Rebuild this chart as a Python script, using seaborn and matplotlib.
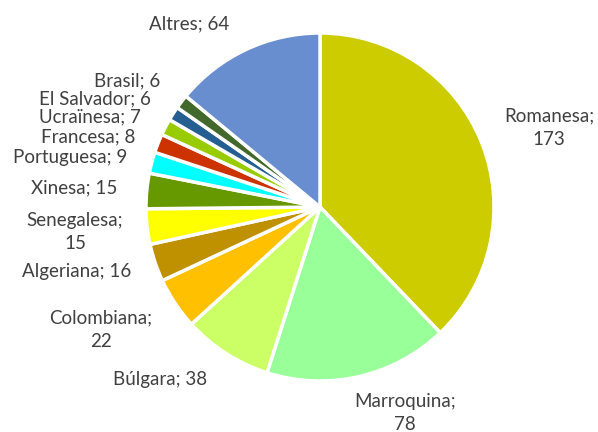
import matplotlib
matplotlib.use("Agg")
import matplotlib.pyplot as plt
import seaborn as sns

categories = ["Romanesa", "Marroquina", "Búlgara", "Colombiana", "Algeriana",
              "Senegalesa", "Xinesa", "Portuguesa", "Francesa", "Ucraïnesa",
              "El Salvador", "Brasil", "Altres"]
values = [173, 78, 38, 22, 16, 15, 15, 9, 8, 7, 6, 6, 64]
colors = ["#CCCC00", "#99FF99", "#CCFF66", "#FFC000", "#BF9000", "#FFFF00",
          "#669900", "#00FFFF", "#CC3300", "#99CC00", "#255E91", "#43682B",
          "#698ED0"]
# label text and where it sits (pixel centre in the 598x432 image)
label_text = ["Romanesa;\n173", "Marroquina;\n78", "Búlgara; 38", "Colombiana;\n22",
              "Algeriana; 16", "Senegalesa;\n15", "Xinesa; 15", "Portuguesa; 9",
              "Francesa; 8", "Ucraïnesa; 7", "El Salvador; 6", "Brasil; 6",
              "Altres; 64"]
label_pos = [(549, 128), (405, 413), (160, 380), (101, 330), (77, 272),
             (75, 232), (74, 188), (70, 158), (88, 137), (90, 117),
             (95, 99), (127, 81), (189, 24)]

sns.set_theme(style="white")
plt.rcParams["font.family"] = ["Lato", "DejaVu Sans"]

W, H = 598, 432
fig = plt.figure(figsize=(W / 100, H / 100), dpi=100)
cx, cy, r = 320, 207, 174
ax = fig.add_axes([(cx - r) / W, 1 - (cy + r) / H, 2 * r / W, 2 * r / H])
ax.pie(values, colors=colors, startangle=90, counterclock=False,
       wedgeprops={"edgecolor": "white", "linewidth": 2.5})
ax.set_xlim(-1, 1)
ax.set_ylim(-1, 1)
ax.axis("off")

for txt, (px, py) in zip(label_text, label_pos):
    fig.text(px / W, 1 - py / H, txt, ha="center", va="center",
             fontsize=13.5, color="#404040", linespacing=1.45)

fig.savefig("out.png", dpi=100)
